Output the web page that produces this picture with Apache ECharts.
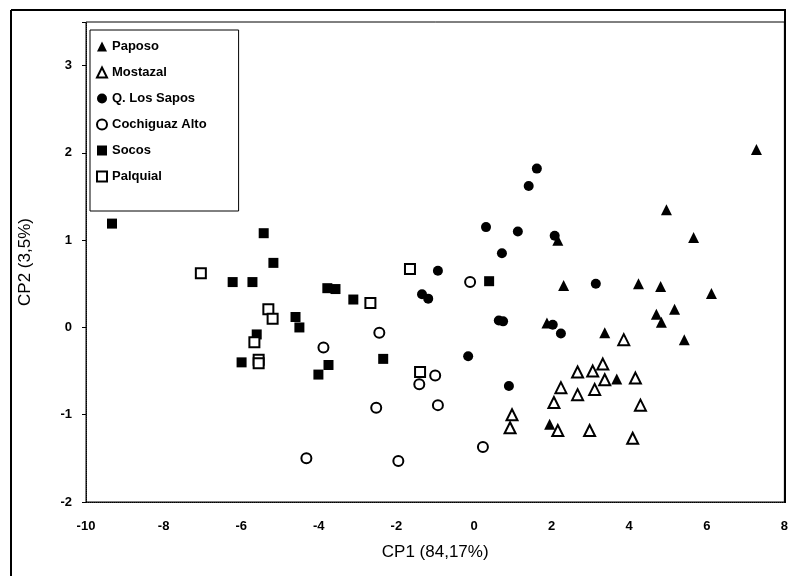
<!DOCTYPE html>
<html lang="en">
<head>
    <meta charset="UTF-8">
    <title>CP1 vs CP2</title>
    <script src="https://cdn.jsdelivr.net/npm/echarts@6/dist/echarts.min.js"></script>
    <style>
        body { margin: 0; padding: 0; background: #fff; }
        #chart { width: 791px; height: 576px; }
    </style>
</head>
<body>
    <div id="chart"></div>
    <script>
        // valores [CP1, CP2]
        const paposo = [
            [7.28, 2.04], [4.96, 1.35], [5.66, 1.03], [2.16, 1.00], [2.31, 0.48],
            [4.24, 0.50], [4.81, 0.47], [6.12, 0.39], [5.17, 0.21], [4.70, 0.15],
            [4.83, 0.06], [1.88, 0.05], [3.37, -0.06], [5.42, -0.14], [3.68, -0.59],
            [1.95, -1.11]
        ];
        const mostazal = [
            [3.86, -0.14], [3.32, -0.42], [2.67, -0.51], [3.06, -0.50], [3.37, -0.60],
            [4.16, -0.58], [2.24, -0.69], [3.11, -0.71], [2.67, -0.77], [2.06, -0.86],
            [4.29, -0.89], [0.98, -1.00], [0.93, -1.15], [2.16, -1.18], [2.98, -1.18],
            [4.09, -1.27]
        ];
        const losSapos = [
            [1.62, 1.82], [1.41, 1.62], [0.31, 1.15], [1.13, 1.10], [2.08, 1.05],
            [0.72, 0.85], [-0.93, 0.65], [-1.34, 0.38], [-1.18, 0.33], [3.14, 0.50],
            [0.64, 0.08], [0.75, 0.07], [2.03, 0.03], [2.24, -0.07], [-0.15, -0.33],
            [0.90, -0.67]
        ];
        const cochiguaz = [
            [-0.10, 0.52], [-2.44, -0.06], [-3.88, -0.23], [-1.00, -0.55], [-1.41, -0.65],
            [-2.52, -0.92], [-0.93, -0.89], [0.23, -1.37], [-4.32, -1.50], [-1.95, -1.53]
        ];
        const socos = [
            [-9.33, 1.19], [-5.42, 1.08], [-5.17, 0.74], [-6.22, 0.52], [-5.71, 0.52],
            [-3.78, 0.45], [-3.57, 0.44], [-4.60, 0.12], [-4.50, 0.00], [-5.60, -0.08],
            [-5.99, -0.40], [-3.75, -0.43], [-4.01, -0.54], [-3.11, 0.32], [0.39, 0.53],
            [-2.34, -0.36]
        ];
        const palquial = [
            [-7.04, 0.62], [-5.30, 0.21], [-5.19, 0.10], [-5.66, -0.17], [-5.55, -0.37],
            [-5.55, -0.41], [-1.65, 0.67], [-2.67, 0.28], [-1.39, -0.51]
        ];

        const font = 'Arial, "Liberation Sans", sans-serif';
        const filled = { color: '#000', opacity: 1 };
        const open = { color: '#fff', borderColor: '#000', borderWidth: 2, opacity: 1 };

        const chart = echarts.init(document.getElementById('chart'));
        chart.setOption({
            backgroundColor: '#fff',
            animation: false,
            grid: { left: 86, right: 6, top: 22, bottom: 74, show: true, borderColor: '#000', borderWidth: 1 },
            legend: {
                orient: 'vertical',
                left: 90, top: 30,
                padding: [10, 32, 28, 6],
                itemGap: 13,
                itemWidth: 10, itemHeight: 10,
                borderColor: '#000', borderWidth: 1,
                backgroundColor: '#fff',
                textStyle: { fontFamily: font, fontSize: 13, fontWeight: 'bold', color: '#000' },
                data: [
                    { name: 'Paposo', icon: 'triangle' },
                    { name: 'Mostazal', icon: 'triangle' },
                    { name: 'Q. Los Sapos', icon: 'circle' },
                    { name: 'Cochiguaz Alto', icon: 'circle' },
                    { name: 'Socos', icon: 'rect' },
                    { name: 'Palquial', icon: 'rect' }
                ]
            },
            xAxis: {
                type: 'value', min: -10, max: 8, interval: 2,
                name: 'CP1 (84,17%)', nameLocation: 'middle', nameGap: 42,
                nameTextStyle: { fontFamily: font, fontSize: 17, color: '#000' },
                axisLine: { onZero: false, lineStyle: { color: '#000', type: 'dotted' } },
                axisTick: { show: false },
                splitLine: { show: false },
                axisLabel: { fontFamily: font, fontSize: 13, fontWeight: 'bold', color: '#000', margin: 18 }
            },
            yAxis: {
                type: 'value', min: -2, max: 3.5, interval: 1,
                name: 'CP2 (3,5%)', nameLocation: 'middle', nameGap: 52,
                nameTextStyle: { fontFamily: font, fontSize: 17, color: '#000' },
                axisLine: { show: true, onZero: false, lineStyle: { color: '#000', type: 'dotted' } },
                axisTick: { show: true, length: 4, lineStyle: { color: '#000' } },
                splitLine: { show: false },
                axisLabel: {
                    fontFamily: font, fontSize: 13, fontWeight: 'bold', color: '#000', margin: 14,
                    formatter: v => (Number.isInteger(v) ? String(v) : '')
                }
            },
            graphic: [
                { type: 'line', shape: { x1: 11, y1: 10, x2: 11, y2: 576 }, style: { stroke: '#000', lineWidth: 2 } },
                { type: 'line', shape: { x1: 11, y1: 10, x2: 786, y2: 10 }, style: { stroke: '#000', lineWidth: 2 } },
                { type: 'line', shape: { x1: 785, y1: 10, x2: 785, y2: 503 }, style: { stroke: '#000', lineWidth: 2 } }
            ],
            series: [
                { name: 'Paposo', type: 'scatter', symbol: 'triangle', symbolSize: 11, itemStyle: filled, data: paposo },
                { name: 'Mostazal', type: 'scatter', symbol: 'triangle', symbolSize: 11, itemStyle: open, data: mostazal },
                { name: 'Q. Los Sapos', type: 'scatter', symbol: 'circle', symbolSize: 10, itemStyle: filled, data: losSapos },
                { name: 'Cochiguaz Alto', type: 'scatter', symbol: 'circle', symbolSize: 10, itemStyle: open, data: cochiguaz },
                { name: 'Socos', type: 'scatter', symbol: 'rect', symbolSize: 10, itemStyle: filled, data: socos },
                { name: 'Palquial', type: 'scatter', symbol: 'rect', symbolSize: 10, itemStyle: open, data: palquial }
            ]
        });
    </script>
</body>
</html>
